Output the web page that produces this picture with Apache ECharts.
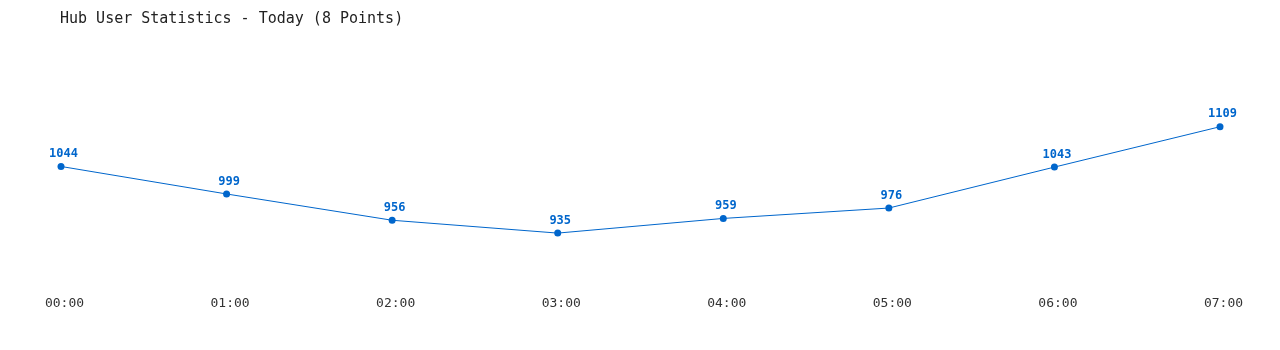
<!DOCTYPE html>
<html>
<head>
<meta charset="utf-8">
<script src="https://cdn.jsdelivr.net/npm/echarts@6/dist/echarts.min.js"></script>
<style>
html,body{margin:0;padding:0;background:#fff;}
#c{width:1280px;height:350px;}
</style>
</head>
<body>
<div id="c"></div>
<script>
var titleText = 'Hub User Statistics - Today (8 Points)';
var categories = ['00:00','01:00','02:00','03:00','04:00','05:00','06:00','07:00'];
var users = [1044, 999, 956, 935, 959, 976, 1043, 1109];

var chart = echarts.init(document.getElementById('c'), null, {renderer:'canvas'});
var mono = '"DejaVu Sans Mono", "Liberation Mono", monospace';
chart.setOption({
  animation: false,
  backgroundColor: '#ffffff',
  title: {
    text: titleText,
    left: 55,
    top: 7,
    textStyle: {fontFamily: mono, fontSize: 15, fontWeight: 'normal', color: '#222'}
  },
  grid: {left: 61, right: 60, top: 71.1, bottom: 95.5, containLabel: false},
  xAxis: {
    type: 'category',
    data: categories,
    boundaryGap: false,
    axisLine: {show: false},
    axisTick: {show: false},
    splitLine: {show: false},
    axisLabel: {
      fontFamily: mono, fontSize: 13, color: '#333', margin: 43,
      padding: [0, 0, 0, 7]
    }
  },
  yAxis: {
    type: 'value',
    min: 900,
    max: 1200,
    show: false
  },
  series: [{
    type: 'line',
    data: users,
    symbol: 'circle',
    symbolSize: 7,
    lineStyle: {color: '#0066cc', width: 1},
    itemStyle: {color: '#0066cc'},
    label: {
      show: true,
      position: 'top',
      distance: 3,
      fontFamily: mono,
      fontSize: 12,
      fontWeight: 'bold',
      color: '#0066cc',
      padding: [0, 0, 0, 5]
    }
  }]
});
</script>
</body>
</html>
